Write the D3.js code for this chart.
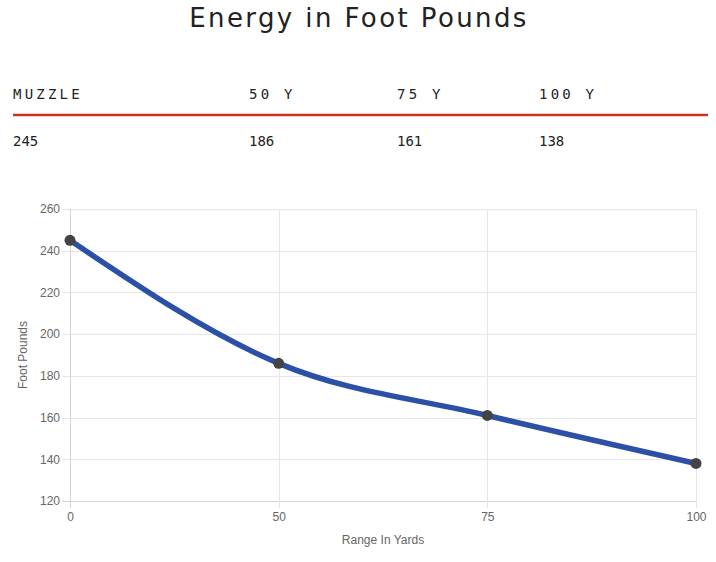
<!DOCTYPE html>
<html>
<head>
<meta charset="utf-8">
<script src="https://cdn.jsdelivr.net/npm/d3@7"></script>
<style>
  body { margin: 0; background: #fff; }
  svg { display: block; }
</style>
</head>
<body>
<svg id="chart" width="716" height="562"></svg>
<script>
// table + chart data
const tableHeads = ["MUZZLE", "50 Y", "75 Y", "100 Y"];
const tableValues = ["245", "186", "161", "138"];
const ranges = ["0", "50", "75", "100"];
const energy = [245, 186, 161, 138];
const yTicks = [120, 140, 160, 180, 200, 220, 240, 260];

const svg = d3.select("#chart");

// title
svg.append("text")
  .attr("x", 359).attr("y", 27)
  .attr("text-anchor", "middle")
  .style("font-family", "'DejaVu Sans'")
  .style("font-size", "26px")
  .style("letter-spacing", "2.4px")
  .style("fill", "#222")
  .text("Energy in Foot Pounds");

// table
const colX = d3.scaleOrdinal().domain(tableHeads).range([13, 249, 397, 539]);

svg.selectAll("text.head")
  .data(tableHeads)
  .enter().append("text")
  .attr("class", "head")
  .attr("x", d => colX(d)).attr("y", 99)
  .style("font-family", "'DejaVu Sans Mono'")
  .style("font-size", "14px")
  .style("letter-spacing", "3.2px")
  .style("fill", "#222")
  .text(d => d);

svg.append("line")
  .attr("x1", 13).attr("x2", 708)
  .attr("y1", 115).attr("y2", 115)
  .attr("stroke", "#cc3322")
  .attr("stroke-width", 2.5);

svg.selectAll("text.val")
  .data(tableValues)
  .enter().append("text")
  .attr("class", "val")
  .attr("x", (d, i) => colX(tableHeads[i])).attr("y", 146)
  .style("font-family", "'DejaVu Sans Mono'")
  .style("font-size", "14px")
  .style("fill", "#222")
  .text(d => d);

// line chart
const margin = {top: 209, left: 70, right: 20, bottom: 61};
const width = 716 - margin.left - margin.right,
  height = 562 - margin.top - margin.bottom;

const x = d3.scalePoint().domain(ranges).range([0, width]);
const y = d3.scaleLinear().domain([120, 260]).range([height, 0]);

const g = svg.append("g").attr("transform", "translate(" + margin.left + "," + margin.top + ")");

// horizontal grid + tick marks
g.selectAll("line.hgrid")
  .data(yTicks)
  .enter().append("line")
  .attr("class", "hgrid")
  .attr("x1", -8).attr("x2", width)
  .attr("y1", d => Math.round(y(d)) + 0.5).attr("y2", d => Math.round(y(d)) + 0.5)
  .attr("stroke", d => d === 120 ? "#d4d4d4" : "#e6e6e6");

// vertical grid + tick marks
g.selectAll("line.vgrid")
  .data(ranges)
  .enter().append("line")
  .attr("class", "vgrid")
  .attr("x1", d => Math.round(x(d)) + 0.5).attr("x2", d => Math.round(x(d)) + 0.5)
  .attr("y1", 0).attr("y2", height + 7)
  .attr("stroke", d => d === "0" ? "#d4d4d4" : "#e6e6e6");

const yAxis = d3.axisLeft(y).tickValues(yTicks).tickSize(0).tickPadding(10);
g.append("g").call(yAxis)
  .call(a => a.select(".domain").remove())
  .selectAll("text")
  .style("font-family", "'Liberation Sans', Arial")
  .style("font-size", "12px")
  .style("fill", "#666");

const xAxis = d3.axisBottom(x).tickSize(0).tickPadding(11);
g.append("g").attr("transform", "translate(0," + height + ")").call(xAxis)
  .call(a => a.select(".domain").remove())
  .selectAll("text")
  .style("font-family", "'Liberation Sans', Arial")
  .style("font-size", "12px")
  .style("fill", "#666");

// axis titles
svg.append("text")
  .attr("transform", "translate(27," + (margin.top + height / 2) + ") rotate(-90)")
  .attr("text-anchor", "middle")
  .style("font-family", "'Liberation Sans', Arial")
  .style("font-size", "12px")
  .style("fill", "#666")
  .text("Foot Pounds");

svg.append("text")
  .attr("x", margin.left + width / 2).attr("y", 544)
  .attr("text-anchor", "middle")
  .style("font-family", "'Liberation Sans', Arial")
  .style("font-size", "12px")
  .style("fill", "#666")
  .text("Range In Yards");

const line = d3.line()
  .x((d, i) => x(ranges[i]))
  .y(d => y(d))
  .curve(d3.curveMonotoneX);

g.append("path")
  .datum(energy)
  .attr("d", line)
  .attr("fill", "none")
  .attr("stroke", "#2b50a6")
  .attr("stroke-width", 5.5);

g.selectAll("circle.pt")
  .data(energy)
  .enter().append("circle")
  .attr("class", "pt")
  .attr("cx", (d, i) => x(ranges[i]))
  .attr("cy", d => y(d))
  .attr("r", 5.5)
  .attr("fill", "#444");
</script>
</body>
</html>
